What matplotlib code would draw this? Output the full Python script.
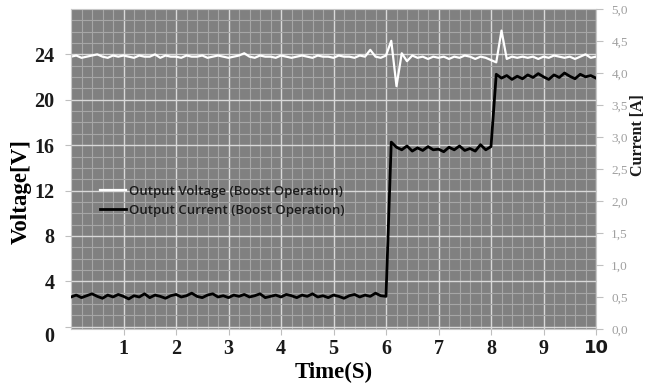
import numpy as np
import matplotlib.pyplot as plt
from matplotlib.ticker import MultipleLocator

# time base, 0.1 s steps
time_s = np.round(np.arange(0, 10.05, 0.1), 2)

voltage = [23.8, 23.9, 23.7, 23.8, 23.9, 24.0, 23.8, 23.7, 23.9, 23.8,
           23.9, 23.8, 23.7, 23.9, 23.8, 23.8, 24.0, 23.7, 23.9, 23.8,
           23.8, 23.7, 23.9, 23.8, 23.8, 23.9, 23.7, 23.8, 23.9, 23.8,
           23.7, 23.8, 23.9, 24.1, 23.8, 23.7, 23.9, 23.8, 23.8, 23.7,
           23.9, 23.8, 23.7, 23.8, 23.9, 23.8, 23.7, 23.9, 23.8, 23.8,
           23.7, 23.9, 23.8, 23.8, 23.7, 23.9, 23.8, 24.4, 23.8, 23.7,
           23.9, 25.2, 21.2, 24.1, 23.4, 23.9, 23.7, 23.8, 23.6, 23.8,
           23.7, 23.8, 23.6, 23.8, 23.7, 23.9, 23.8, 23.6, 23.8, 23.7,
           23.5, 23.3, 26.1, 23.6, 23.8, 23.7, 23.8, 23.7, 23.8, 23.6,
           23.8, 23.7, 23.9, 23.8, 23.7, 23.8, 23.6, 23.8, 24.0, 23.7,
           23.8]

current = [0.50, 0.53, 0.49, 0.52, 0.55, 0.51, 0.48, 0.53, 0.50, 0.54,
           0.51, 0.47, 0.52, 0.50, 0.55, 0.49, 0.53, 0.51, 0.48, 0.52,
           0.54, 0.50, 0.52, 0.56, 0.51, 0.49, 0.53, 0.55, 0.50, 0.52,
           0.49, 0.53, 0.51, 0.54, 0.50, 0.52, 0.55, 0.49, 0.51, 0.53,
           0.50, 0.54, 0.52, 0.49, 0.53, 0.51, 0.55, 0.50, 0.52, 0.49,
           0.53, 0.51, 0.48, 0.52, 0.54, 0.50, 0.53, 0.51, 0.56, 0.52,
           0.51, 2.92, 2.84, 2.80, 2.86, 2.78, 2.83, 2.79, 2.85, 2.80,
           2.81, 2.77, 2.84, 2.80, 2.86, 2.79, 2.82, 2.78, 2.88, 2.80,
           2.85, 3.98, 3.92, 3.96, 3.90, 3.95, 3.91, 3.97, 3.93, 3.99,
           3.94, 3.90, 3.97, 3.93, 4.00, 3.95, 3.91, 3.98, 3.94, 3.96,
           3.92]

x_ticks = [1, 2, 3, 4, 5, 6, 7, 8, 9, 10]
v_ticks = [0, 4, 8, 12, 16, 20, 24]
i_ticks = [0.0, 0.5, 1.0, 1.5, 2.0, 2.5, 3.0, 3.5, 4.0, 4.5, 5.0]

serif = 'Liberation Serif'

fig = plt.figure(figsize=(6.45, 3.85), dpi=100)
W, H = 645, 385
ax = fig.add_axes([71 / W, 1 - 322 / H, 525 / W, 306 / H])
ax.set_facecolor('#808080')

ax.set_xlim(0, 10)
ax.set_ylim(-0.2, 28.0)

# grid: light minor lines, brighter major lines
ax.xaxis.set_minor_locator(MultipleLocator(0.2))
ax.yaxis.set_minor_locator(MultipleLocator(1))
ax.grid(which='minor', color='#a6a6a6', lw=0.8)
ax.grid(which='major', color='#d9d9d9', lw=1.0)
ax.set_axisbelow(True)
ax.tick_params(which='minor', length=0)

ax.plot(time_s, voltage, color='white', lw=1.6, label='Output Voltage (Boost Operation)')

ax.set_xticks(x_ticks)
ax.set_xticklabels([str(t) for t in x_ticks], fontfamily=serif, fontweight='bold', fontsize=14.5)
ax.set_yticks(v_ticks)
ax.set_yticklabels([str(v) for v in v_ticks], fontfamily=serif, fontweight='bold', fontsize=14.5)
ax.tick_params(axis='both', which='major', color='#bfbfbf', length=4, labelcolor='#1a1a1a')
ax.tick_params(axis='x', pad=3)
ax.tick_params(axis='y', pad=8)
ax.get_xticklabels()[-1].set_fontfamily('DejaVu Sans')
ax.get_xticklabels()[-1].set_fontsize(13)
ax.get_yticklabels()[0].set_va('top')
for s in ax.spines.values():
    s.set_color('#c8c8c8')
    s.set_linewidth(0.8)

ax.set_xlabel('Time(S)', fontfamily=serif, fontweight='bold', fontsize=16.5, labelpad=2)
ax.set_ylabel('Voltage[V]', fontfamily=serif, fontweight='bold', fontsize=16.5)
ax.yaxis.set_label_coords(-0.074, 0.43)

# current axis (right), slightly taller than the plot area as in the source figure
ax2 = ax.twinx()
ax2.set_position([71 / W, 1 - 329 / H, 525 / W, 320 / H])
ax2.set_ylim(0, 5.0)
ax2.plot(time_s, current, color='black', lw=2.0, label='Output Current (Boost Operation)')
ax2.set_yticks(i_ticks)
ax2.set_yticklabels([f'{v:.1f}'.replace('.', ',') for v in i_ticks],
                    fontfamily=serif, fontsize=9.5)
ax2.tick_params(axis='y', color='#c0c0c0', length=5, labelcolor='#a0a0a0', pad=6)
for s in ax2.spines.values():
    s.set_visible(False)
fig.text(638 / W, 1 - 135 / H, 'Current [A]', rotation=90, ha='center', va='center',
         fontfamily=serif, fontweight='bold', fontsize=11.5, color='#1a1a1a')

h1, l1 = ax.get_legend_handles_labels()
h2, l2 = ax2.get_legend_handles_labels()
leg = fig.legend(h1 + h2, l1 + l2, loc='upper left', bbox_to_anchor=(100 / W, 1 - 185 / H),
                 frameon=False, borderpad=0, borderaxespad=0, handlelength=2.0,
                 handletextpad=0.2, labelspacing=0.45,
                 prop={'family': 'Open Sans', 'size': 9.5, 'weight': 600})
for t in leg.get_texts():
    t.set_color('#1a1a1a')

fig.savefig('out.png', dpi=100)
